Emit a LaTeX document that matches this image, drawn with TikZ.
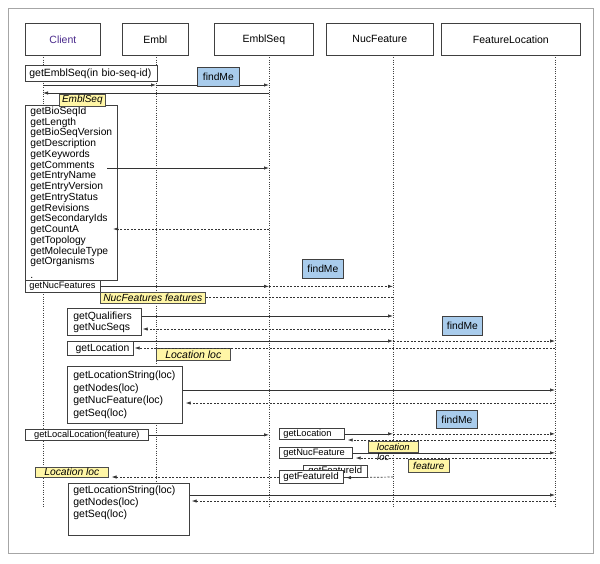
\documentclass[tikz,border=0pt]{standalone}
\usepackage{fontspec}
\setmainfont{Liberation Sans}
\usetikzlibrary{arrows.meta,calc}
\definecolor{noteY}{HTML}{FFF6A6}
\definecolor{findB}{HTML}{A9CCEC}
\definecolor{clientP}{HTML}{4A2A8C}
\newcommand\myfs[2]{\fontsize{#1}{#2}\selectfont}
\begin{document}
\begin{tikzpicture}[x=1pt,y=-1pt,
  hdr/.style={draw=black!75, fill=white, line width=0.7pt, minimum height=32pt, inner sep=0pt, anchor=north west, font=\myfs{10.5}{12}},
  mbox/.style={draw=black!75, fill=white, line width=0.7pt, inner ysep=0pt, inner xsep=0pt, anchor=north west, align=left},
  note/.style={draw=black!70, fill=noteY, line width=0.6pt, inner sep=0pt, anchor=north west},
  find/.style={draw=black!75, fill=findB, line width=0.7pt, inner sep=0pt, anchor=north west, font=\myfs{10.3}{12}},
  life/.style={draw=black!75, line width=0.7pt, dash pattern=on 1pt off 1.3pt},
  call/.style={draw=black!80, line width=0.7pt, -{Latex[length=5pt,width=3.4pt]}},
  ret/.style={draw=black!80, line width=0.7pt, dash pattern=on 2pt off 1.5pt, -{Latex[length=5pt,width=3.4pt]}},
  retn/.style={draw=black!80, line width=0.7pt, dash pattern=on 2pt off 1.5pt}]
\useasboundingbox (0,0) rectangle (600,563);
\draw[black!35, line width=1pt] (8,8) rectangle (593,553);

% headers
\node[hdr, minimum width=75pt] (hC) at (25,23) {\color{clientP}Client};
\node[hdr, minimum width=66pt] (hE) at (122,23) {Embl};
\node[hdr, minimum width=99pt] (hS) at (214,23) {EmblSeq};
\node[hdr, minimum width=107pt] (hN) at (326,23) {NucFeature};
\node[hdr, minimum width=139pt] (hF) at (441,23) {FeatureLocation};

% lifelines
\coordinate (lC) at (43,55);
\coordinate (lE) at (156,55);
\coordinate (lS) at (269,55);
\coordinate (lN) at (393,55);
\coordinate (lF) at (555,55);
\coordinate (bot) at (0,507);
\foreach \l in {lC,lE,lS,lN,lF} \draw[life] (\l) -- (\l |- bot);

% row coordinates
\foreach \n/\yy in {r85/85,r93/93,r316/316,r329/329,r348/348,r390/390,r403/403,r440/440,r458/458,r477/477,r495/495,r501/501}
  \coordinate (\n) at (0,\yy);
\coordinate (c168) at (107,168);
\coordinate (c229) at (113,229);

% first call (under findMe)
\draw[call] (lC |- r85) -- (lE |- r85);
\draw[call] (lE |- r85) -- (lS |- r85);
\draw[call] (lS |- r93) -- (lC |- r93);

% boxes
\node[mbox, font=\myfs{10.5}{12}, text width=124pt, inner xsep=4pt, minimum height=16pt] (b1) at (25,65) {getEmblSeq(in bio-seq-id)};
\node[mbox, font=\myfs{10.3}{10.75}, text width=82pt, inner xsep=5pt, minimum height=175pt] (b2) at (25,105)
  {getBioSeqId\\getLength\\getBioSeqVersion\\getDescription\\getKeywords\\getComments\\getEntryName\\getEntryVersion\\getEntryStatus\\getRevisions\\getSecondaryIds\\getCountA\\getTopology\\getMoleculeType\\getOrganisms\\\kern3pt.};
\node[mbox, font=\myfs{9.3}{11}, text width=67pt, inner xsep=4pt, minimum height=12pt] (b3) at (25,280) {getNucFeatures};
\node[mbox, font=\myfs{10.4}{11}, text width=62pt, inner xsep=6pt, minimum height=27pt] (b4) at (67,308) {getQualifiers\\getNucSeqs};
\node[mbox, font=\myfs{10.4}{12}, text width=58pt, inner xsep=4pt, minimum height=14pt, align=right] (b5) at (67,341) {getLocation};
\node[mbox, font=\myfs{10.5}{12.5}, text width=103pt, inner xsep=6pt, minimum height=57pt] (b6) at (67,366) {getLocationString(loc)\\getNodes(loc)\\getNucFeature(loc)\\getSeq(loc)};
\node[mbox, font=\myfs{9.3}{11}, minimum width=123pt, minimum height=11pt, align=center] (b7) at (25,429) {getLocalLocation(feature)};
\node[mbox, font=\myfs{9.3}{11}, text width=57pt, inner xsep=4pt, minimum height=11pt] (b8) at (279,428) {getLocation};
\node[mbox, font=\myfs{9.3}{11}, text width=65pt, inner xsep=4pt, minimum height=11pt] (b9) at (279,447) {getNucFeature};
\node[mbox, font=\myfs{9.5}{11}, text width=54pt, inner xsep=5pt, minimum height=12pt] (b10b) at (303,465) {getFeatureId};
\draw[ret, shorten >=3pt] (lN |- r477) -- (b10b.south -| 343,0);
\node[mbox, font=\myfs{9.8}{11}, text width=56pt, inner xsep=4pt, minimum height=13pt] (b10) at (279,470) {getFeatureId};
\node[mbox, font=\myfs{10.5}{12}, text width=111pt, inner xsep=5pt, minimum height=52pt] (b11) at (68,483) {getLocationString(loc)\\getNodes(loc)\\getSeq(loc)\\\strut};

% notes
\node[note, font=\myfs{10}{12}\itshape, minimum width=46pt, minimum height=12pt] (n1) at (59,94) {EmblSeq};
\node[note, font=\myfs{10.3}{12}\itshape, minimum width=105pt, minimum height=11pt] (n2) at (100,292) {NucFeatures features};
\node[note, font=\myfs{10.5}{12}\itshape, minimum width=74pt, minimum height=12pt] (n3) at (156,348) {Location loc};
\node[note, font=\myfs{10.3}{12}\itshape, minimum width=73pt, minimum height=10pt] (n6) at (35,467) {Location loc};

% messages
\draw[call] (c168) -- (lS |- c168);
\draw[ret] (lS |- c229) -- (c229);
\draw[call] (b3.east) -- (lS |- b3.east);
\draw[ret] (lS |- b3.east) -- (lN |- b3.east);
\draw[retn] (lN |- n2.east) -- (n2.east);
\draw[call] (b4.east |- r316) -- (lN |- r316);
\draw[ret, shorten >=1pt] (lN |- r329) -- (b4.east |- r329);
\draw[call] (b5.north east) -- (lN |- b5.north east);
\draw[ret] (lN |- b5.north east) -- (lF |- b5.north east);
\draw[ret, shorten >=1pt] (lF |- r348) -- (b5.east |- r348);
\draw[call] (b6.east |- r390) -- (lF |- r390);
\draw[ret, shorten >=3pt] (lF |- r403) -- (b6.east |- r403);
\draw[call] (b7.east) -- (lS |- b7.east);
\draw[call] (b8.east) -- (lN |- b8.east);
\draw[ret] (lN |- b8.east) -- (lF |- b8.east);
\draw[ret, shorten >=3pt] (lF |- r440) -- (b8.east |- r440);
\draw[call] (b9.east) -- (lF |- b9.east);
\draw[ret, shorten >=3pt] (lF |- r458) -- (b9.east |- r458);
\draw[ret, shorten >=3pt] (b10.west |- r477) -- (n6.east |- r477);
\draw[call] (b11.east |- r495) -- (lF |- r495);
\draw[ret, shorten >=2pt] (lF |- r501) -- (b11.east |- r501);

% notes on top of lines
\node[note, font=\myfs{9.5}{11}\itshape, minimum width=50pt, minimum height=11pt] (n4) at (368,441) {location};
\node[anchor=west, inner sep=0pt, font=\myfs{9.5}{11}\itshape] (n4b) at (377,457) {loc};
\node[note, font=\myfs{10}{12}\itshape, minimum width=41pt, minimum height=13pt] (n5) at (408,459) {feature};

% findMe boxes
\node[find, minimum width=42pt, minimum height=19pt] (f1) at (197,67) {findMe};
\node[find, minimum width=41pt, minimum height=19pt] (f2) at (302,259) {findMe};
\node[find, minimum width=40pt, minimum height=19pt] (f3) at (442,316) {findMe};
\node[find, minimum width=41pt, minimum height=18pt] (f4) at (436,410) {findMe};
\end{tikzpicture}
\end{document}
